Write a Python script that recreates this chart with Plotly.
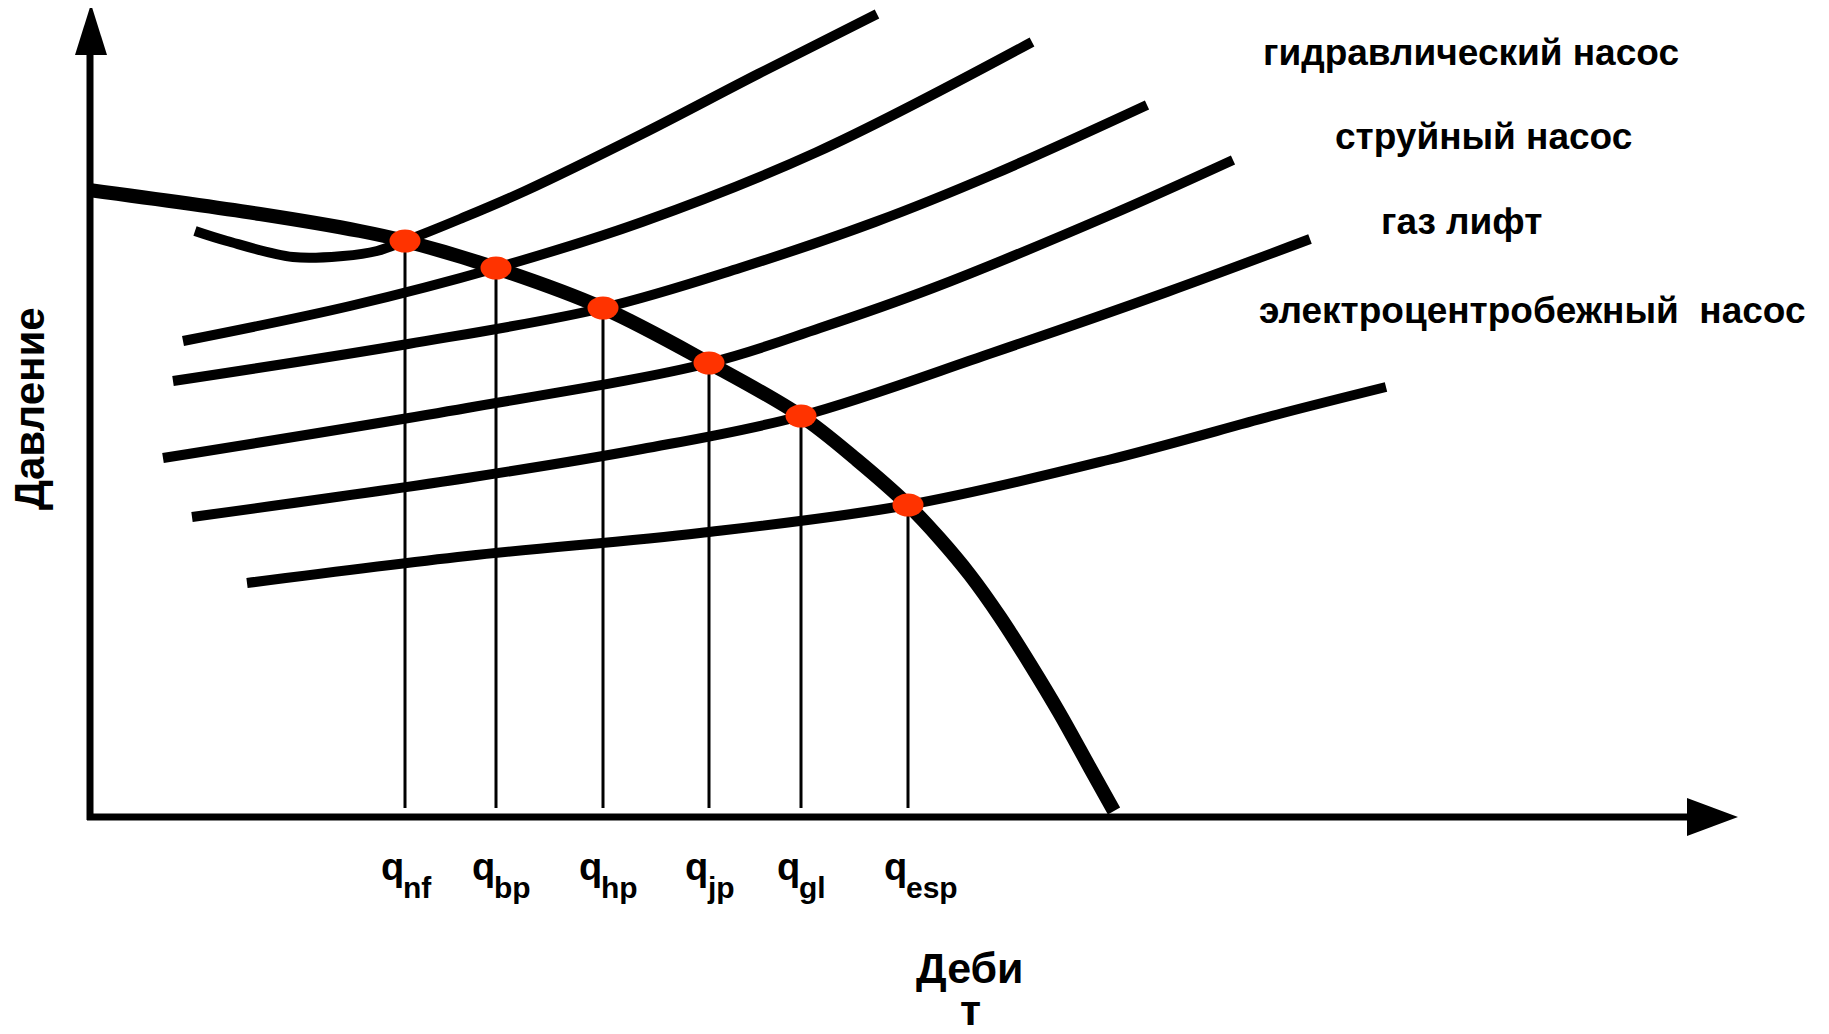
import plotly.graph_objects as go

# ---- data (in picture pixel units) ----
ipr_x = [89, 260, 360, 405, 496, 603, 709, 801, 857, 908, 940, 970, 1000, 1030, 1060, 1090, 1114]
ipr_y = [190, 214, 231, 241, 268, 308, 363, 416, 460, 505, 539, 575, 617, 664, 714, 768, 811]

pump_hyd_x = [195, 227, 293, 343, 377, 405, 460, 525, 642, 758, 877]
pump_hyd_y = [231, 241, 257, 256, 251, 241, 219, 191, 134, 74, 14]

pump2_x = [183, 350, 496, 642, 817, 1032]
pump2_y = [341, 306, 268, 222, 152, 42]

pump3_x = [173, 408, 603, 740, 875, 992, 1147]
pump3_y = [381, 344, 308, 268, 222, 175, 105]

pump4_x = [163, 467, 709, 820, 933, 1108, 1233]
pump4_y = [458, 408, 363, 328, 288, 216, 160]

pump5_x = [192, 467, 642, 801, 992, 1167, 1310]
pump5_y = [517, 478, 449, 416, 353, 292, 239]

pump6_x = [247, 467, 700, 908, 1108, 1283, 1386]
pump6_y = [583, 556, 533, 505, 460, 413, 387]

op_x = [405, 496, 603, 709, 801, 908]
op_y = [241, 268, 308, 363, 416, 505]
op_sub = ["nf", "bp", "hp", "jp", "gl", "esp"]

legend_labels = ["гидравлический насос", "струйный насос", "газ лифт",
                 "электроцентробежный\u00a0 насос"]
legend_x = [1471, 1483, 1461, 1532]
legend_y = [52, 136, 221, 310]

axis_origin = (90, 817)
axis_top = 55
axis_right = 1690
y_title = "Давление"
x_title_lines = ["Деби", "т"]

# ---- figure ----
W, H = 1829, 1034
BODY = 8  # default page margin around the plot div
FONT = "Liberation Sans, Arial, sans-serif"
fig = go.Figure()

def line(xs, ys, w, shape="spline"):
    fig.add_trace(go.Scatter(x=xs, y=ys, mode="lines",
                             line=dict(color="black", width=w, shape=shape, smoothing=1.0),
                             hoverinfo="skip", showlegend=False))

# axes
ox, oy = axis_origin
line([ox, ox], [oy + 3, axis_top], 7, "linear")
line([ox - 3, axis_right], [oy, oy], 7, "linear")
# arrow heads
fig.add_trace(go.Scatter(x=[ox + 1, ox - 15, ox + 17, ox + 1], y=[4, 55, 55, 4],
                         mode="lines", fill="toself", fillcolor="black",
                         line=dict(color="black", width=0), hoverinfo="skip", showlegend=False))
fig.add_trace(go.Scatter(x=[1738, 1687, 1687, 1738], y=[oy, oy - 19, oy + 19, oy],
                         mode="lines", fill="toself", fillcolor="black",
                         line=dict(color="black", width=0), hoverinfo="skip", showlegend=False))

# drop lines
for x, y in zip(op_x, op_y):
    line([x, x], [y, 808], 3, "linear")

# pump curves
for xs, ys in [(pump_hyd_x, pump_hyd_y), (pump2_x, pump2_y), (pump3_x, pump3_y),
               (pump4_x, pump4_y), (pump5_x, pump5_y), (pump6_x, pump6_y)]:
    line(xs, ys, 10)

# IPR curve
line(ipr_x, ipr_y, 14)

# operating points (ellipses)
shapes = []
for x, y in zip(op_x, op_y):
    shapes.append(dict(type="circle", xref="x", yref="y", x0=x - 15.5, x1=x + 15.5,
                       y0=y - 11.5, y1=y + 11.5, fillcolor="#FF3300",
                       line=dict(width=0), layer="above"))

annotations = []
for t, x, y in zip(legend_labels, legend_x, legend_y):
    annotations.append(dict(x=x, y=y, xref="x", yref="y", text=t, showarrow=False,
                            xanchor="center", yanchor="middle",
                            font=dict(family=FONT, size=37, color="black", weight="bold")))
for x, s in zip(op_x, op_sub):
    annotations.append(dict(x=x + 1, y=867, xref="x", yref="y", text="q", showarrow=False,
                            xanchor="right", yanchor="middle",
                            font=dict(family=FONT, size=38, color="black", weight="bold")))
    annotations.append(dict(x=x - 4, y=887, xref="x", yref="y", text=s, showarrow=False,
                            xanchor="left", yanchor="middle",
                            font=dict(family=FONT, size=30, color="black", weight="bold")))
annotations.append(dict(x=970, y=968, xref="x", yref="y", text=x_title_lines[0], showarrow=False,
                        xanchor="center", yanchor="middle",
                        font=dict(family=FONT, size=43, color="black", weight="bold")))
annotations.append(dict(x=970, y=1010, xref="x", yref="y", text=x_title_lines[1], showarrow=False,
                        xanchor="center", yanchor="middle",
                        font=dict(family=FONT, size=43, color="black", weight="bold")))
annotations.append(dict(x=29, y=409, xref="x", yref="y", text=y_title, showarrow=False,
                        textangle=-90, xanchor="center", yanchor="middle",
                        font=dict(family=FONT, size=42, color="black", weight="bold")))

fig.update_layout(
    width=W - 2 * BODY, height=H - 2 * BODY, autosize=False,
    margin=dict(l=0, r=0, t=0, b=0, pad=0),
    paper_bgcolor="white", plot_bgcolor="white",
    xaxis=dict(range=[BODY, W - BODY], visible=False, fixedrange=True),
    yaxis=dict(range=[H - BODY, BODY], visible=False, fixedrange=True),
    shapes=shapes, annotations=annotations, showlegend=False,
)
fig.write_html("out.html")
